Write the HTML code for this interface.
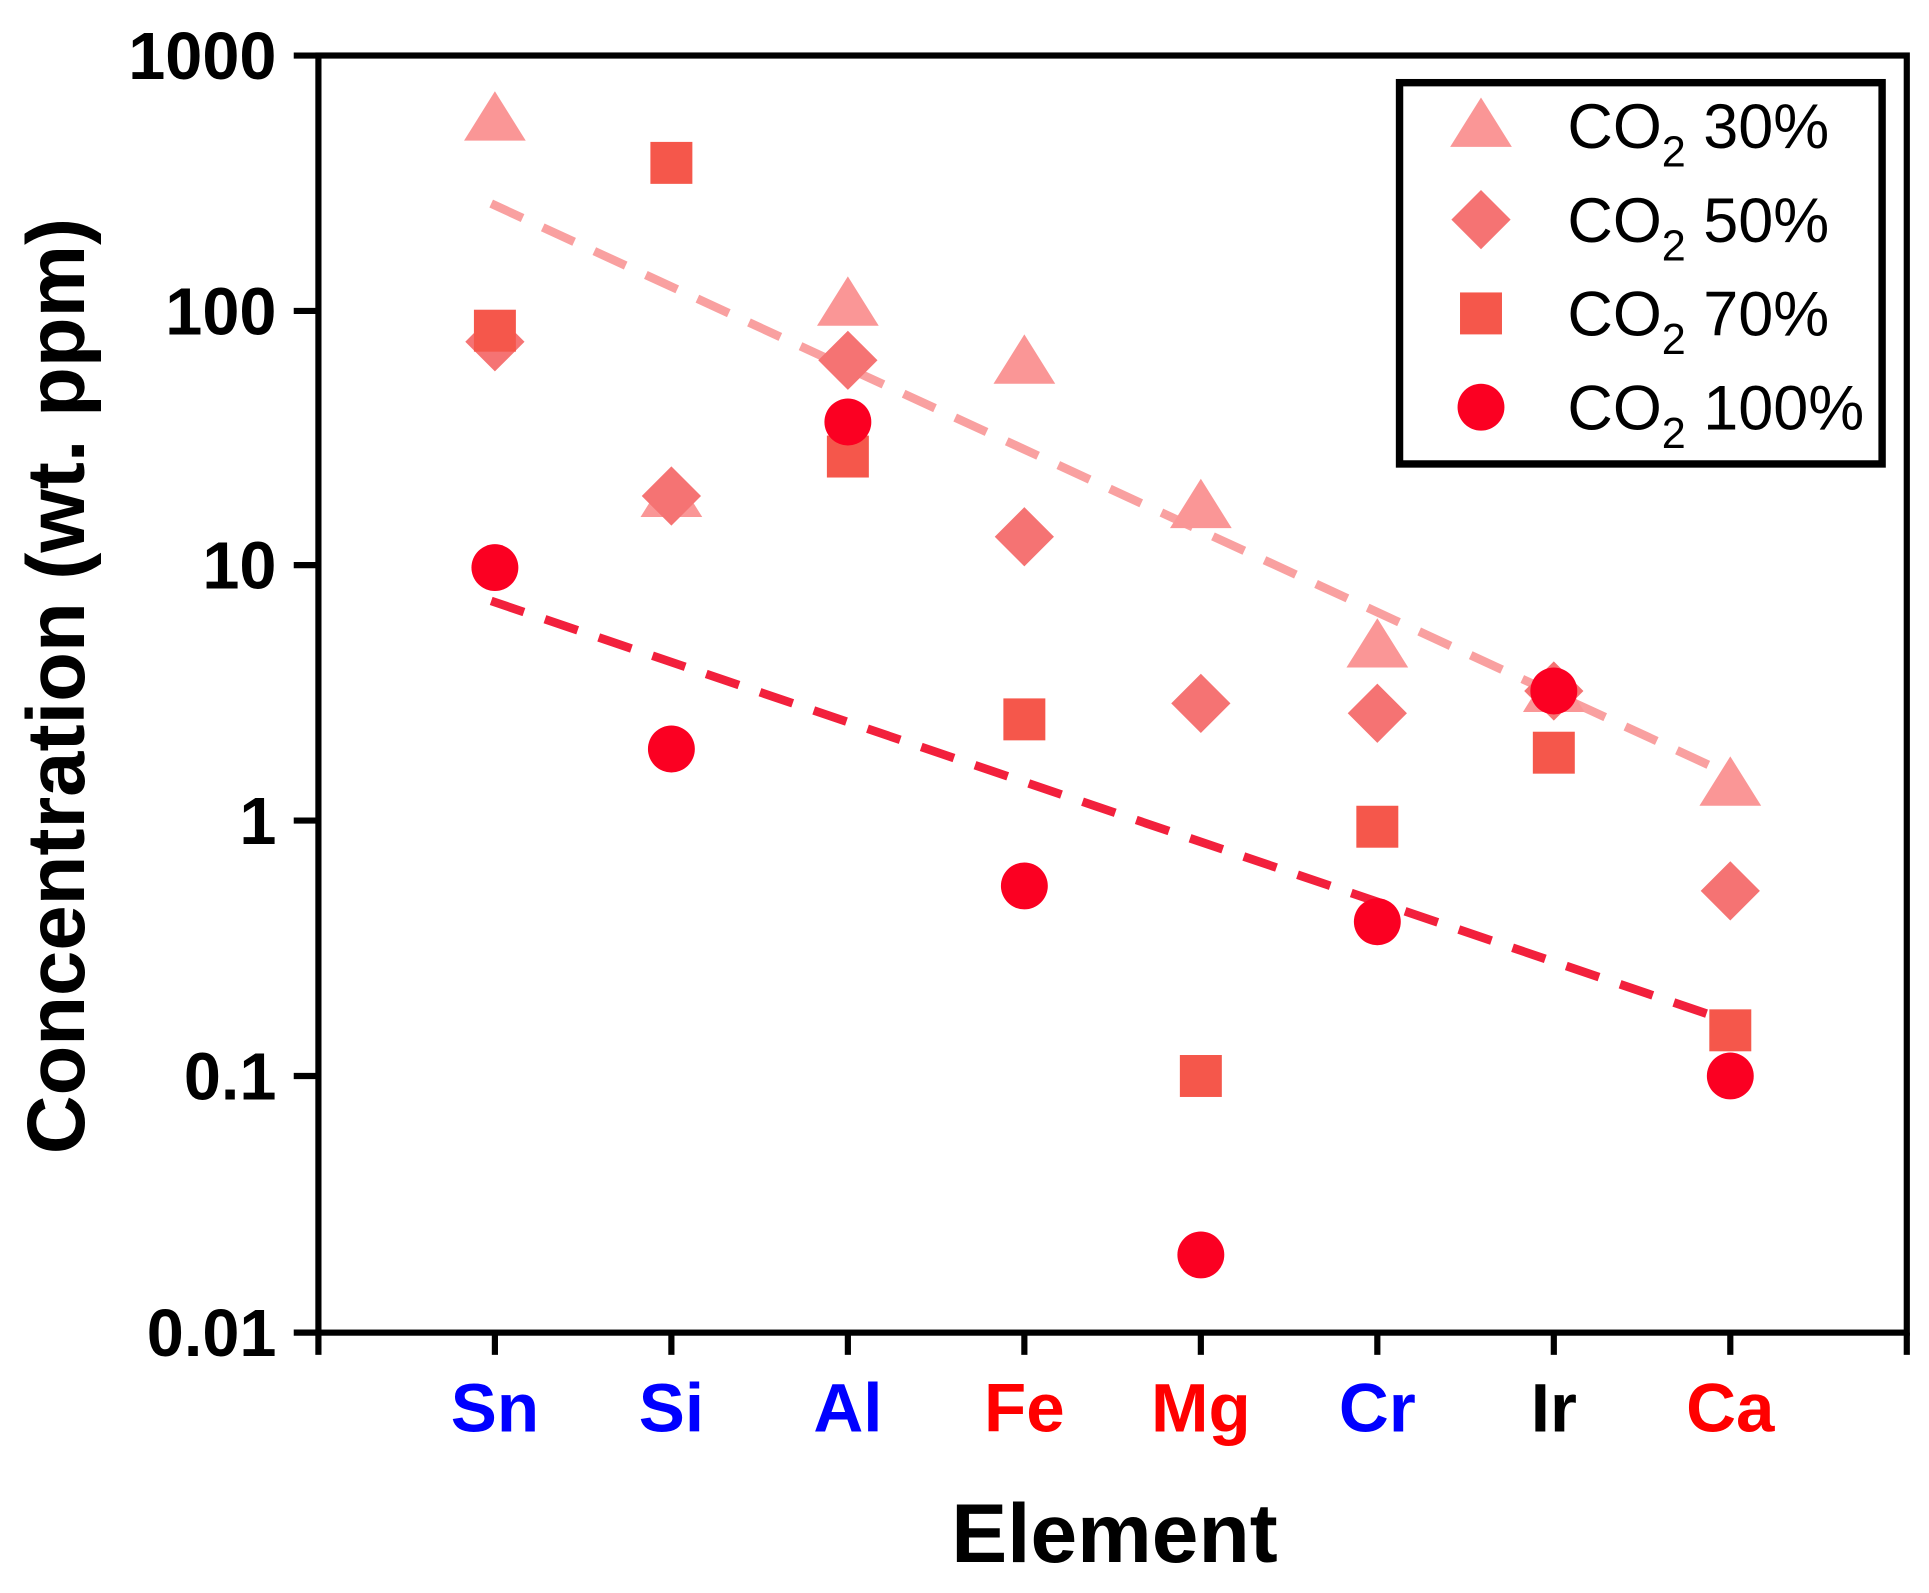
<!DOCTYPE html>
<html><head><meta charset="utf-8"><style>html,body{margin:0;padding:0;background:#fff;overflow:hidden}svg{display:block}</style></head>
<body>
<svg width="1929" height="1593" viewBox="0 0 1563 1291" preserveAspectRatio="none" xmlns="http://www.w3.org/2000/svg" font-family="Liberation Sans, Arial, sans-serif">
<rect width="1563" height="1291" fill="#fff"/>
<line x1="398" y1="165" x2="1402" y2="628" stroke="#f9a0a0" stroke-width="7" stroke-dasharray="28 18"/>
<line x1="398" y1="487" x2="1402" y2="828" stroke="#f2203c" stroke-width="7" stroke-dasharray="28 18"/>
<defs>
<path id="tri" d="M0,-23 L25,17 L-25,17 Z" fill="#fa9696"/>
<path id="dia" d="M0,-24 L24,0 L0,24 L-24,0 Z" fill="#f57373"/>
<rect id="sq" x="-17" y="-17" width="34" height="34" fill="#f5574b"/>
<circle id="ci" r="19" fill="#fb0022"/>
</defs>
<use href="#tri" x="401" y="97"/><use href="#tri" x="687" y="247"/><use href="#tri" x="830" y="294"/><use href="#tri" x="973" y="411"/><use href="#tri" x="1116" y="524"/><use href="#tri" x="1259" y="560"/><use href="#tri" x="1402" y="636"/><use href="#tri" x="544" y="402"/>
<use href="#dia" x="401" y="277"/><use href="#dia" x="544" y="402"/><use href="#dia" x="687" y="292"/><use href="#dia" x="830" y="435"/><use href="#dia" x="973" y="570"/><use href="#dia" x="1116" y="578"/><use href="#dia" x="1259" y="560"/><use href="#dia" x="1402" y="722"/>
<use href="#sq" x="401" y="268"/><use href="#sq" x="544" y="132"/><use href="#sq" x="687" y="370"/><use href="#sq" x="830" y="583"/><use href="#sq" x="973" y="872"/><use href="#sq" x="1116" y="670"/><use href="#sq" x="1259" y="610"/><use href="#sq" x="1402" y="835"/>
<use href="#ci" x="401" y="460"/><use href="#ci" x="544" y="607"/><use href="#ci" x="687" y="342"/><use href="#ci" x="830" y="718"/><use href="#ci" x="973" y="1017"/><use href="#ci" x="1116" y="747"/><use href="#ci" x="1259" y="560"/><use href="#ci" x="1402" y="872"/>
<rect x="258" y="45" width="1287" height="1035" fill="none" stroke="#000" stroke-width="5"/>
<g stroke="#000" stroke-width="5">
<line x1="238" y1="45" x2="258" y2="45"/><line x1="238" y1="252" x2="258" y2="252"/><line x1="238" y1="458" x2="258" y2="458"/><line x1="238" y1="665" x2="258" y2="665"/><line x1="238" y1="872" x2="258" y2="872"/><line x1="238" y1="1080" x2="258" y2="1080"/>
<line x1="258" y1="1080" x2="258" y2="1098"/><line x1="401" y1="1080" x2="401" y2="1098"/><line x1="544" y1="1080" x2="544" y2="1098"/><line x1="687" y1="1080" x2="687" y2="1098"/><line x1="830" y1="1080" x2="830" y2="1098"/><line x1="973" y1="1080" x2="973" y2="1098"/><line x1="1116" y1="1080" x2="1116" y2="1098"/><line x1="1259" y1="1080" x2="1259" y2="1098"/><line x1="1402" y1="1080" x2="1402" y2="1098"/><line x1="1545" y1="1080" x2="1545" y2="1098"/>
</g>
<g font-size="54" font-weight="bold" text-anchor="end" fill="#000">
<text x="224" y="64">1000</text><text x="224" y="271">100</text><text x="224" y="477">10</text><text x="224" y="684">1</text><text x="224" y="891">0.1</text><text x="224" y="1099">0.01</text>
</g>
<g font-size="56" font-weight="bold" text-anchor="middle">
<text x="401" y="1160" fill="#0000ff">Sn</text><text x="544" y="1160" fill="#0000ff">Si</text><text x="687" y="1160" fill="#0000ff">Al</text><text x="830" y="1160" fill="#ff0000">Fe</text><text x="973" y="1160" fill="#ff0000">Mg</text><text x="1116" y="1160" fill="#0000ff">Cr</text><text x="1259" y="1160" fill="#000">Ir</text><text x="1402" y="1160" fill="#ff0000">Ca</text>
</g>
<text x="903" y="1266" font-size="68" font-weight="bold" text-anchor="middle">Element</text>
<text transform="translate(68,556) rotate(-90)" font-size="66" font-weight="bold" text-anchor="middle">Concentration (wt. ppm)</text>
<rect x="1134" y="67" width="391" height="309" fill="#fff" stroke="#000" stroke-width="6"/>
<use href="#tri" x="1200" y="102"/><use href="#dia" x="1200" y="178"/><use href="#sq" x="1200" y="254"/><use href="#ci" x="1200" y="330"/>
<g font-size="51" fill="#000">
<text x="1270" y="120">CO<tspan font-size="35" dy="15">2</tspan><tspan dy="-15"> 30%</tspan></text>
<text x="1270" y="196">CO<tspan font-size="35" dy="15">2</tspan><tspan dy="-15"> 50%</tspan></text>
<text x="1270" y="272">CO<tspan font-size="35" dy="15">2</tspan><tspan dy="-15"> 70%</tspan></text>
<text x="1270" y="348">CO<tspan font-size="35" dy="15">2</tspan><tspan dy="-15"> 100%</tspan></text>
</g>
</svg>
</body></html>
